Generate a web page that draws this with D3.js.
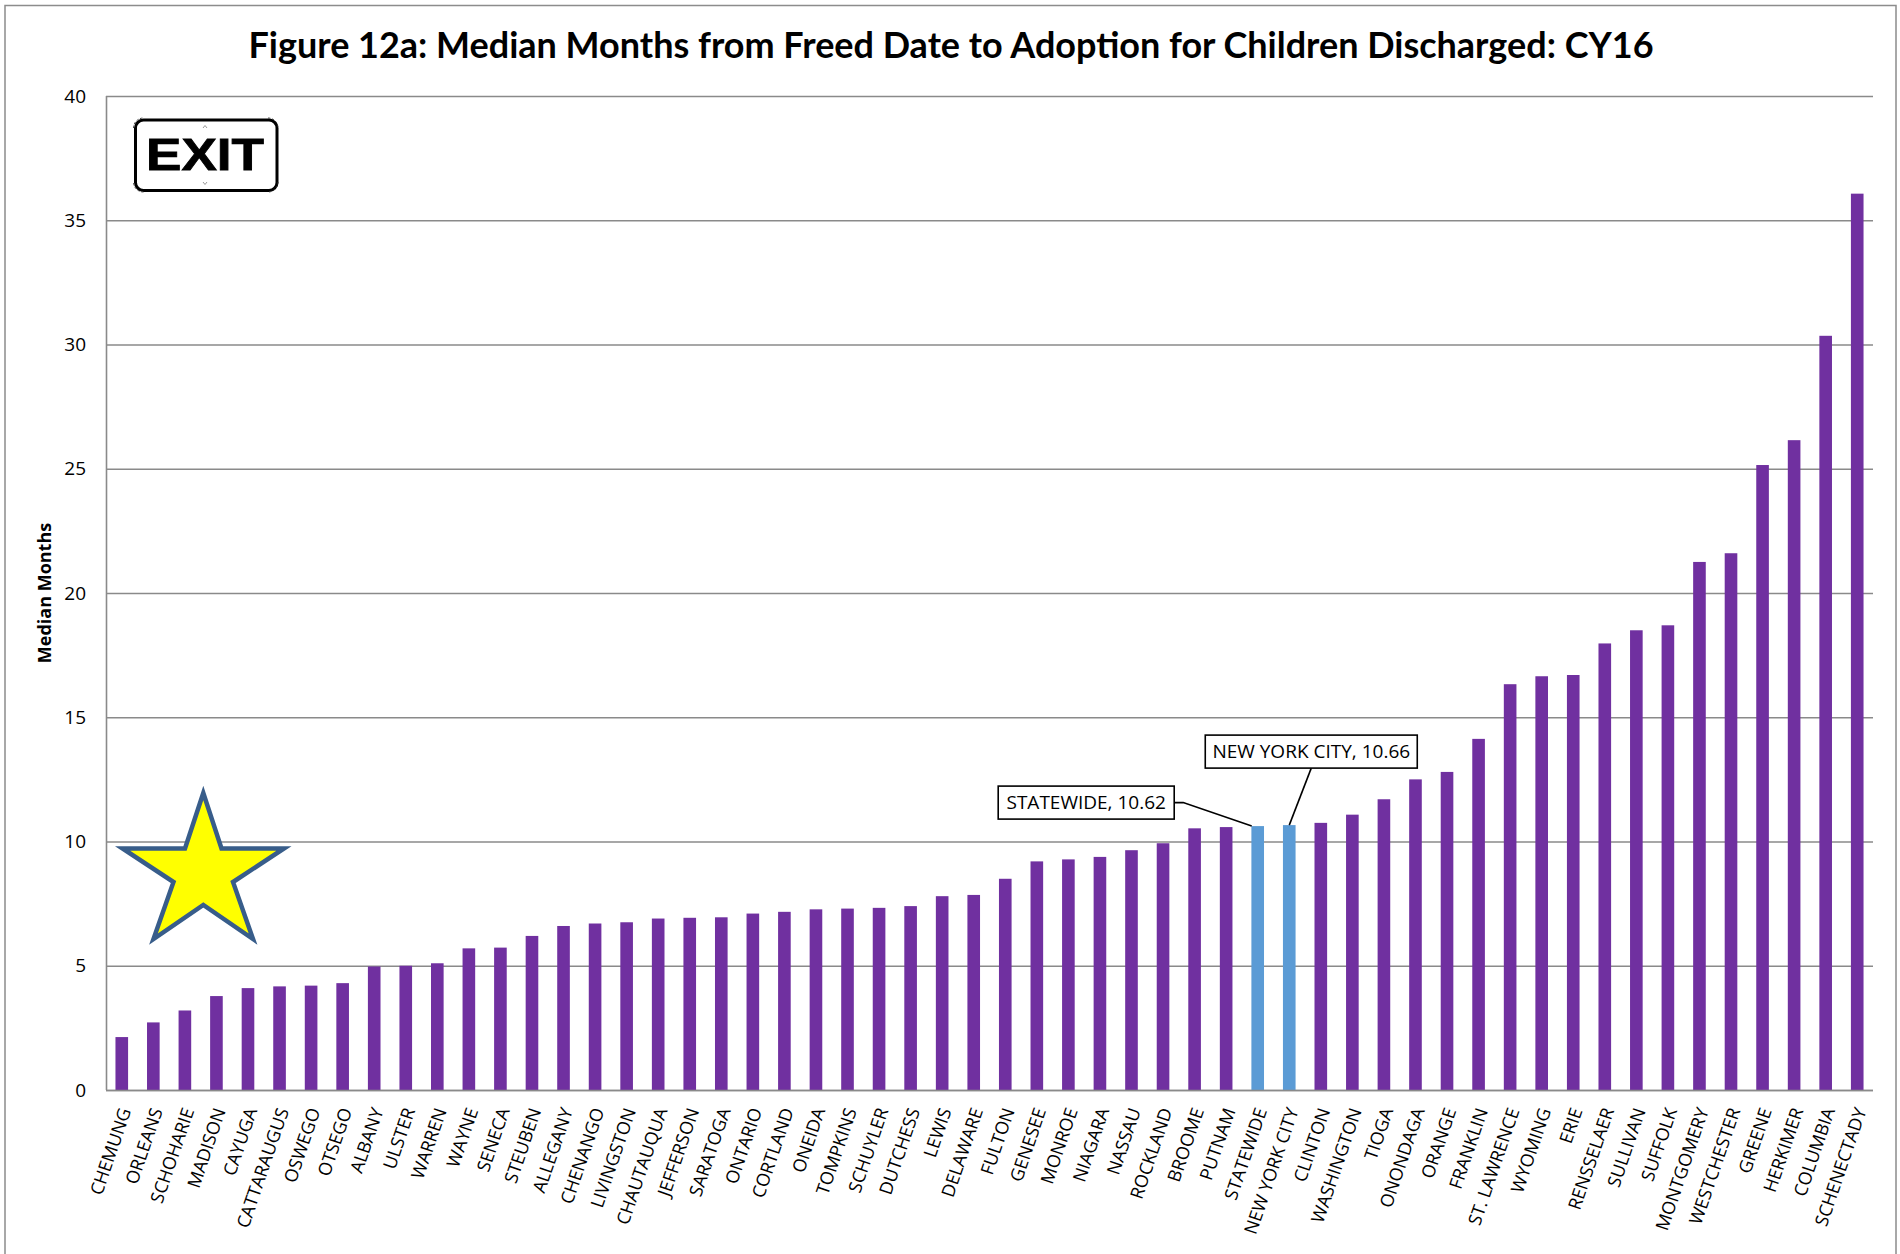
<!DOCTYPE html>
<html><head><meta charset="utf-8">
<script src="https://cdn.jsdelivr.net/npm/d3@7/dist/d3.min.js"></script>
<style>html,body{margin:0;padding:0;background:#fff}svg{display:block}</style>
</head><body><svg id="c" width="1900" height="1254"></svg>
<script>
const titleText = "Figure 12a: Median Months from Freed Date to Adoption for Children Discharged: CY16";
const yAxisTitle = "Median Months";
const categories = ["CHEMUNG","ORLEANS","SCHOHARIE","MADISON","CAYUGA","CATTARAUGUS","OSWEGO","OTSEGO","ALBANY","ULSTER","WARREN","WAYNE","SENECA","STEUBEN","ALLEGANY","CHENANGO","LIVINGSTON","CHAUTAUQUA","JEFFERSON","SARATOGA","ONTARIO","CORTLAND","ONEIDA","TOMPKINS","SCHUYLER","DUTCHESS","LEWIS","DELAWARE","FULTON","GENESEE","MONROE","NIAGARA","NASSAU","ROCKLAND","BROOME","PUTNAM","STATEWIDE","NEW YORK CITY","CLINTON","WASHINGTON","TIOGA","ONONDAGA","ORANGE","FRANKLIN","ST. LAWRENCE","WYOMING","ERIE","RENSSELAER","SULLIVAN","SUFFOLK","MONTGOMERY","WESTCHESTER","GREENE","HERKIMER","COLUMBIA","SCHENECTADY"];
const values = [2.13,2.72,3.2,3.78,4.1,4.17,4.2,4.3,4.97,5.0,5.1,5.7,5.73,6.2,6.6,6.7,6.75,6.9,6.93,6.95,7.1,7.17,7.27,7.3,7.33,7.4,7.8,7.85,8.5,9.2,9.28,9.38,9.65,9.93,10.53,10.58,10.62,10.66,10.75,11.08,11.7,12.5,12.8,14.13,16.33,16.65,16.7,17.97,18.5,18.7,21.25,21.6,25.15,26.15,30.35,36.07];
const yTicks = [0,5,10,15,20,25,30,35,40];
const highlighted = ["STATEWIDE","NEW YORK CITY"];

const font = "'Open Sans'";
const svg = d3.select("#c");
const L=106,R=1873,T=96,B=1090;
const x = d3.scaleBand().domain(categories).range([L,R]).paddingInner(0.6).paddingOuter(0.3);
const y = d3.scaleLinear().domain([0,40]).range([B,T]);

// outer frame
svg.append("path").attr("d","M5,1254V5.5H1896V1254").attr("fill","none").attr("stroke","#8c8c8c").attr("stroke-width",1.5);

// title
svg.append("text").attr("x",951).attr("y",58).attr("text-anchor","middle")
  .attr("font-family","Lato").attr("font-weight",700).attr("font-size",37).attr("fill","#000")
  .attr("textLength",1405).attr("lengthAdjust","spacingAndGlyphs").text(titleText);

// y axis + gridlines
const ya = svg.append("g").attr("transform",`translate(${L},0)`)
  .call(d3.axisLeft(y).tickValues(yTicks).tickSize(-(R-L)).tickPadding(20).tickFormat(d3.format("d")));
ya.selectAll(".tick line").attr("stroke","#8a8a8a").attr("stroke-width",1.6);
ya.select(".domain").attr("d",`M0.5,${T}V${B}`).attr("stroke","#8a8a8a").attr("stroke-width",1.6);
ya.selectAll("text").attr("font-family",font).attr("font-size",19).attr("fill","#000");

svg.append("text").attr("transform",`translate(51,593) rotate(-90)`).attr("text-anchor","middle")
  .attr("font-family",font).attr("font-weight",700).attr("font-size",18).attr("fill","#000").text(yAxisTitle);

// bars
const rows = categories.map((c,i)=>({c,v:values[i]}));
svg.append("g").selectAll("rect").data(rows).join("rect")
  .attr("x",d=>x(d.c)).attr("width",x.bandwidth())
  .attr("y",d=>y(d.v)).attr("height",d=>B-y(d.v))
  .attr("fill",d=>highlighted.includes(d.c)?"#5b9bd5":"#7030a0");

// x axis
const xa = svg.append("g").attr("transform",`translate(0,${B})`)
  .call(d3.axisBottom(x).tickSize(0).tickPadding(0));
xa.select(".domain").attr("d",`M${L},0.5H${R}`).attr("stroke","#8a8a8a").attr("stroke-width",1.6);
xa.selectAll(".tick text")
  .attr("font-family",font).attr("font-size",18).attr("fill","#000")
  .attr("text-anchor","end").attr("dy",0)
  .attr("transform","translate(5,19) rotate(-71)")
  .attr("dominant-baseline","middle");

// callouts
function callout(cat,dx,dy,w,h,knee){
  const v = values[categories.indexOf(cat)];
  const cx = x(cat)+x.bandwidth()/2, top = y(v);
  const bx = cx+dx, by = top+dy;
  const g = svg.append("g");
  g.append("path").attr("fill","none").attr("stroke","#000").attr("stroke-width",1.6).attr("d",knee(bx,by,cx,top));
  g.append("rect").attr("x",bx).attr("y",by).attr("width",w).attr("height",h).attr("fill","#fff").attr("stroke","#000").attr("stroke-width",1.6);
  g.append("text").attr("x",bx+w/2).attr("y",by+h/2+6.5).attr("text-anchor","middle")
    .attr("font-family",font).attr("font-size",19).attr("fill","#000").text(`${cat}, ${v.toFixed(2)}`);
}
callout("STATEWIDE",-259.5,-40,176,33,(bx,by,cx,t)=>`M${bx+176},${by+16.5}h9L${cx-6},${t}`);
callout("NEW YORK CITY",-84,-90,212,33,(bx,by,cx,t)=>`M${bx+106},${by+33}L${cx+0},${t}`);

// star decoration
const starPts = [[203.3,793],[221.5,848.5],[284,848.5],[233,882],[253,939],[203.3,905],[153.5,939],[173.5,882],[122.5,848.5],[185,848.5]];
svg.append("polygon").attr("points",starPts.map(p=>p.join(",")).join(" "))
  .attr("fill","#ffff00").attr("stroke","#385d8a").attr("stroke-width",4.5).attr("stroke-linejoin","miter").attr("stroke-miterlimit",10);

// EXIT sign
const s = svg.append("g");
s.append("rect").attr("x",135.5).attr("y",120).attr("width",141.5).attr("height",70.5).attr("rx",8).attr("fill","#fff").attr("stroke","#000").attr("stroke-width",3);
["M133.5,128A10,10 0 0 1 143.5,118","M268,118A10,10 0 0 1 278,128","M278,182A10,10 0 0 1 268,192","M143.5,192A10,10 0 0 1 133.5,182"].forEach(d=>{
  s.append("path").attr("d",d).attr("fill","none").attr("stroke","#333").attr("stroke-width",0.9).attr("stroke-dasharray","2.5,1.5");
});
s.append("text").attr("x",205).attr("y",170).attr("text-anchor","middle")
  .attr("font-family","'Liberation Sans'").attr("font-weight",700).attr("font-size",44).attr("stroke","#000").attr("stroke-width",0.8)
  .attr("textLength",118).attr("lengthAdjust","spacingAndGlyphs").text("EXIT");
s.append("path").attr("d","M203,128l2,-2.5l2,2.5M203,182l2,2.5l2,-2.5").attr("fill","none").attr("stroke","#999").attr("stroke-width",1);
</script></body></html>
